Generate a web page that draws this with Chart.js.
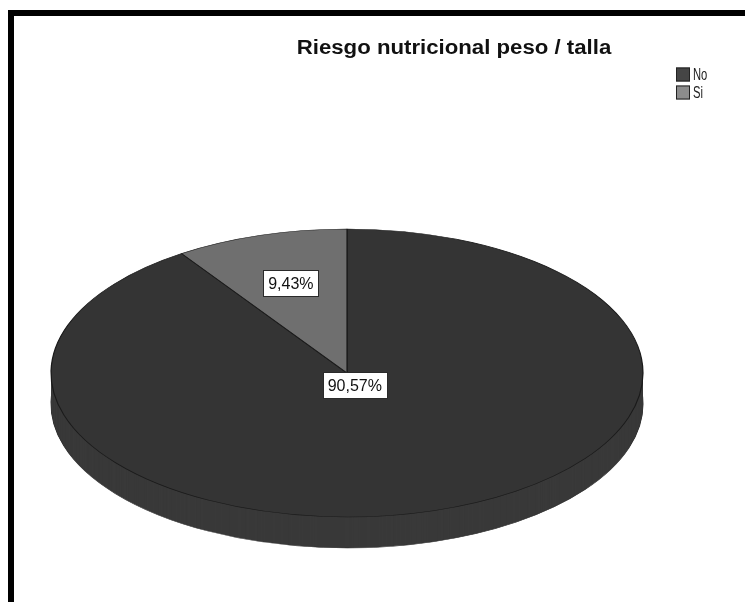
<!DOCTYPE html>
<html>
<head>
<meta charset="utf-8">
<script src="https://cdn.jsdelivr.net/npm/chart.js@4/dist/chart.umd.min.js"></script>
<style>
  html, body { margin: 0; padding: 0; background: #fff; overflow: hidden; }
  #frame { position: absolute; left: 8px; top: 10px; width: 900px; height: 800px;
           border-top: 6px solid #000; border-left: 6px solid #000; }
  #my-chart { position: absolute; left: 0; top: 0; }
</style>
</head>
<body>
<div id="frame"></div>
<canvas id="my-chart" width="745" height="602"></canvas>
<script>
'use strict'
///data///
let chartTitle = 'Riesgo nutricional peso / talla'
let categories = ['No', 'Si']
let percentages = [90.57, 9.43]
let percentLabels = ['90,57%', '9,43%']
let sliceColors = ['#343434', '#6f6f6f']
let legendColors = ['#454545', '#8c8c8c']

///look of the tilted pie (screen pixels)
let pieCenterX = 347
let pieCenterY = 373
let pieRadiusX = 296
let pieRadiusY = 144
let pieDepth = 31
let sideColor = '#393939'
let labelSpots = [0.09, 0.65]//fraction of radius along the middle of each slice

let ctx = document.getElementById('my-chart').getContext('2d')

//squash the pie into an ellipse and give it a side
let tiltPlugin = {
  id: 'tilt',
  beforeDatasetsDraw(chart) {
    let meta = chart.getDatasetMeta(0)
    let first = meta.data[0]
    let r = first.outerRadius
    let c = chart.ctx
    c.save()
    c.translate(pieCenterX, pieCenterY)
    c.scale(pieRadiusX / r, pieRadiusY / r)
    c.translate(-first.x, -first.y)
    ///side: the arcs again, pushed down, one pixel at a time
    for (let d = pieDepth; d >= 1; d--) {
      c.save()
      c.translate(0, d * r / pieRadiusY)
      for (let i = 0; i < meta.data.length; i++) {
        let arc = meta.data[i]
        let saved = arc.options
        arc.options = Object.assign({}, saved, {
          backgroundColor: sideColor,
          borderColor: d === pieDepth ? '#2a2a2a' : sideColor,
          borderWidth: d === pieDepth ? 1 : 0
        })
        arc.draw(c)
        arc.options = saved
      }
      c.restore()
    }
  },
  afterDatasetsDraw(chart) {
    chart.ctx.restore()
  },
  afterDraw(chart) {
    let c = chart.ctx
    let meta = chart.getDatasetMeta(0)

    ///percent boxes
    c.save()
    c.font = '16px "Liberation Sans", Arial, sans-serif'
    c.textAlign = 'center'
    c.textBaseline = 'middle'
    for (let i = 0; i < meta.data.length; i++) {
      let arc = meta.data[i]
      let mid = (arc.startAngle + arc.endAngle) / 2
      let x = pieCenterX + pieRadiusX * labelSpots[i] * Math.cos(mid)
      let y = pieCenterY + pieRadiusY * labelSpots[i] * Math.sin(mid)
      let w = c.measureText(percentLabels[i]).width + 10
      let h = 26
      c.fillStyle = '#ffffff'
      c.fillRect(Math.round(x - w / 2), Math.round(y - h / 2), Math.round(w), h)
      c.strokeStyle = '#2a2a2a'
      c.lineWidth = 1
      c.strokeRect(Math.round(x - w / 2) + 0.5, Math.round(y - h / 2) + 0.5, Math.round(w), h)
      c.fillStyle = '#111111'
      c.fillText(percentLabels[i], x, y + 1)
    }
    c.restore()

    ///title
    c.save()
    c.font = 'bold 20px "Liberation Sans", Arial, sans-serif'
    c.fillStyle = '#111111'
    c.textAlign = 'center'
    c.textBaseline = 'alphabetic'
    c.translate(454, 54)
    c.scale(1.11, 1)
    c.fillText(chartTitle, 0, 0)
    c.restore()

    ///legend
    c.save()
    for (let i = 0; i < categories.length; i++) {
      let y = 67.5 + i * 18
      c.fillStyle = legendColors[i]
      c.fillRect(676, y, 14, 14)
      c.strokeStyle = '#222222'
      c.lineWidth = 1
      c.strokeRect(676.5, y + 0.5, 13, 13)
      c.save()
      c.font = '16px "Liberation Sans", Arial, sans-serif'
      c.fillStyle = '#222222'
      c.textBaseline = 'middle'
      c.translate(693, y + 8)
      c.scale(0.7, 1)
      c.fillText(categories[i], 0, 0)
      c.restore()
    }
    c.restore()
  }
}

let chartObject = {
  type: 'pie',
  data: {
    labels: categories,
    datasets: [{
      data: percentages,
      backgroundColor: sliceColors,
      borderColor: '#1a1a1a',
      borderWidth: 1.2,
      clip: false
    }]
  },
  options: {
    responsive: false,
    animation: false,
    layout: { padding: { left: 51, right: 102, top: 5, bottom: 5 } },
    plugins: {
      legend: { display: false },
      tooltip: { enabled: false },
      title: { display: false }
    }
  },
  plugins: [tiltPlugin]
}

const myChart = new Chart(ctx, chartObject)
</script>
</body>
</html>
